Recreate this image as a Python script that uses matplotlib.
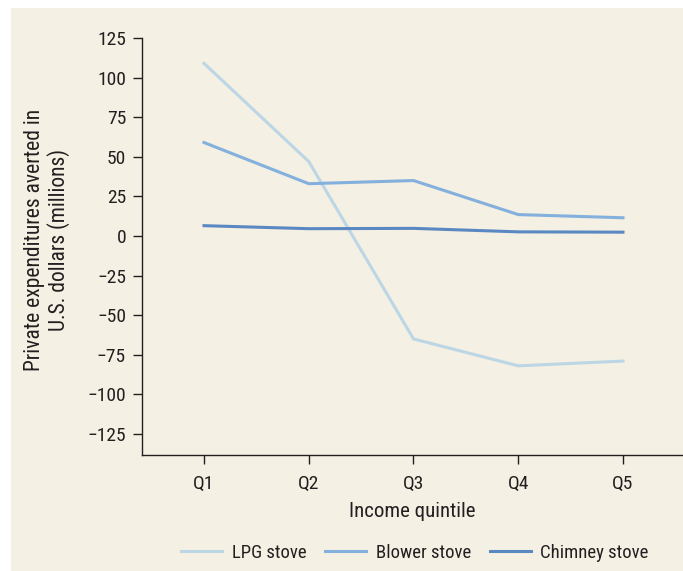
import matplotlib
matplotlib.use('Agg')
from matplotlib import pyplot as plt
from matplotlib import font_manager as fm

# Data
quintiles = ['Q1', 'Q2', 'Q3', 'Q4', 'Q5']
lpg_stove = [109, 47, -65, -82, -79]
blower_stove = [59, 33, 35, 13.5, 11.5]
chimney_stove = [6.5, 4.6, 4.8, 2.6, 2.4]
y_ticks = [125, 100, 75, 50, 25, 0, -25, -50, -75, -100, -125]

# pick a narrow font if there is one
fonts = fm.fontManager.ttflist
names = set(f.name for f in fonts)
family = 'DejaVu Sans'
for cand in ['Liberation Sans Narrow', 'Roboto Condensed', 'Open Sans Condensed']:
    if cand in names:
        family = cand
        break
else:
    if any(f.name == 'DejaVu Sans' and f.stretch == 'condensed' for f in fonts):
        plt.rcParams['font.stretch'] = 'condensed'
plt.rcParams['font.family'] = [family, 'DejaVu Sans']

bg = '#f4f0e3'
txt = '#231f20'
fig = plt.figure(figsize=(6.83, 5.71), dpi=100)
fig.patch.set_facecolor('white')
# beige panel behind everything
panel = plt.Rectangle((11 / 683, 0), 1, 1 - 8 / 571, transform=fig.transFigure,
                      facecolor=bg, edgecolor='none', zorder=-10)
fig.add_artist(panel)

ax = fig.add_axes([142 / 683, 116 / 571, (683 - 142) / 683, (455 - 38) / 571])
ax.set_zorder(5)
ax.patch.set_alpha(0)

x = range(len(quintiles))
ax.plot(x, lpg_stove, color='#bcd6e6', lw=2.2, label='LPG stove')
ax.plot(x, blower_stove, color='#84b0dd', lw=2.2, label='Blower stove')
ax.plot(x, chimney_stove, color='#5a88c3', lw=2.2, label='Chimney stove')

ax.set_xlim(-0.592, 4.573)
ax.set_ylim(-138.3, 125)
ax.set_xticks(list(x))
ax.set_xticklabels(quintiles)
ax.set_yticks(y_ticks)
ax.set_yticklabels([str(v).replace('-', '\u2212') for v in y_ticks])

for s in ['top', 'right']:
    ax.spines[s].set_visible(False)
for s in ['left', 'bottom']:
    ax.spines[s].set_color(txt)
    ax.spines[s].set_linewidth(1.0)
ax.tick_params(axis='both', colors=txt, labelsize=14, length=6.5, width=1)
ax.tick_params(axis='y', pad=5)
ax.tick_params(axis='x', pad=8)

ax.set_xlabel('Income quintile', fontsize=15, color=txt)
ax.xaxis.set_label_coords(0.5, -0.113)
ax.set_ylabel('Private expenditures averted in\nU.S. dollars (millions)', fontsize=15.5,
              color=txt, linespacing=1.1)
ax.yaxis.set_label_coords(-0.176, 0.515)
ax.yaxis.label.set_va('center')

leg = fig.legend(loc='center', bbox_to_anchor=(415 / 683, 1 - 553 / 571), ncol=3, frameon=False,
                 fontsize=13.5, handlelength=2.2, columnspacing=1.0, handletextpad=0.5,
                 labelcolor=txt)
leg.set_zorder(6)

fig.savefig('out.png', dpi=100, facecolor=fig.get_facecolor())
